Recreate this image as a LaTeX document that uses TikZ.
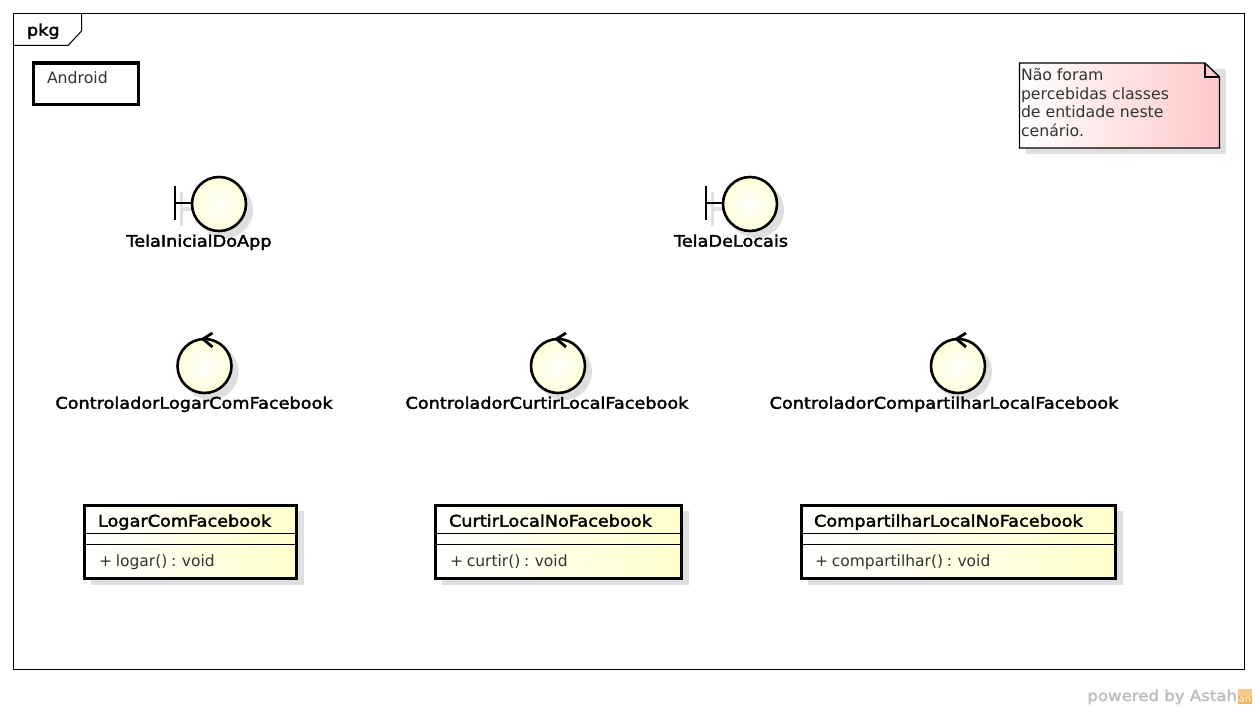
\documentclass[tikz,border=0pt]{standalone}
\usepackage{fontspec}
\setmainfont{DejaVu Sans}
\newfontfamily\boldish[FakeBold=2.2,FakeStretch=1.105]{DejaVu Sans}
\usetikzlibrary{shadings}
\definecolor{shadowgray}{HTML}{DFDFDF}
\definecolor{classyellow}{HTML}{FFFFCC}
\definecolor{notered}{HTML}{FFC8C8}
\definecolor{thintext}{HTML}{333333}
\definecolor{logotext}{HTML}{BDBDBD}
\definecolor{logoorange}{HTML}{F0B45A}
\tikzset{
  x=1pt,y=-1pt,
  every node/.style={inner sep=0pt,outer sep=0pt},
  txt/.style={font=\fontsize{15.7}{18}\selectfont,text=thintext,anchor=base west},
  bold/.style={font=\boldish\fontsize{16}{18}\selectfont,text=black,anchor=base},
  framel/.style={draw=black,line width=1pt},
  thick3/.style={draw=black,line width=3pt},
  robust/.style={circle,minimum size=54pt,draw=black,line width=2.6pt,inner color=white,outer color=classyellow!75},
  shadowc/.style={circle,minimum size=56pt,fill=shadowgray},
  classbox/.style={rectangle,thick3,left color=white,right color=classyellow,anchor=north west,minimum height=73pt},
  stroke/.style={draw=black,line width=2.8pt},
  sep/.style={draw=black,line width=1.3pt},
}
\newcommand{\boundaryfig}[2]{%
  \node[shadowc] at (#2+6,210) {};
  \fill[shadowgray] (#2-39,207) rectangle (#2-25,211);
  \fill[shadowgray] (#2-39,192) rectangle (#2-36,226);
  \node[robust] (#1) at (#2,204) {};
  \coordinate (#1bar) at (#2-44,203);
  \draw[stroke] (#1bar) -- (#1.west |- #1bar);
  \draw[stroke] (#2-44,186) -- (#2-44,220);
}
\newcommand{\controlfig}[2]{%
  \node[shadowc] at (#2+6,372) {};
  \node[robust] (#1) at (#2,366) {};
  \draw[stroke,line join=miter] (#2+8,333) -- (#2-1.5,339) -- (#2+8,347);
}
\newcommand{\classfig}[6]{%
  \fill[shadowgray] (#2+6,511) rectangle (#3+7,585);
  \node[classbox,minimum width=#3-#2] (#1) at (#2,505) {};
  \draw[sep] (#1.west |- 0,533.5) -- (#1.east |- 0,533.5);
  \draw[sep] (#1.west |- 0,544.5) -- (#1.east |- 0,544.5);
  \node[bold,anchor=base west] (#1name) at (#4,526.6) {#5};
  \node[txt,font=\fontsize{15.5}{18}\selectfont] (#1op) at (#4+1,566) {\spaceskip=3.8pt\relax #6};
}
\begin{document}
\begin{tikzpicture}
\useasboundingbox (0,0) rectangle (1257,709);
\fill[white] (0,0) rectangle (1257,709);
% frame
\node[rectangle,framel,minimum width=1231pt,minimum height=656pt,anchor=north west] (frame) at (13.5,13.5) {};
\draw[framel] (frame.north west |- 0,45.5) -- (68,45.5) -- (81.5,31) -- (81.5,13.5);
\node[bold,anchor=base west] (pkg) at (27,35.7) {pkg};
% android
\node[rectangle,thick3,minimum width=105pt,minimum height=41pt,anchor=north west] (android) at (33.5,63) {};
\node[txt] (androidlabel) at (47,83) {Android};
% note
\fill[shadowgray] (1026,69) rectangle (1226,154);
\shade[left color=white,right color=notered,draw=black,line width=1.3pt] (1019.5,63) -- (1205,63) -- (1219.5,77) -- (1219.5,148) -- (1019.5,148) -- cycle;
\draw[black,line width=1.3pt] (1205,63) -- (1205,77) -- (1219.5,77);
\node[txt,align=left,anchor=north west,font=\fontsize{15.7}{18.6}\selectfont] (note) at (1021,68.5) {Não foram\\percebidas classes\\de entidade neste\\cenário.};
% boundaries
\boundaryfig{tela}{219}
\node[bold] (telalabel) at (199,246.7) {TelaInicialDoApp};
\boundaryfig{locais}{750}
\node[bold] (locaislabel) at (731,246.7) {TelaDeLocais};
% controllers
\controlfig{cone}{204.5}
\node[bold] (conelabel) at (194,408.7) {ControladorLogarComFacebook};
\controlfig{ctwo}{558}
\node[bold] (ctwolabel) at (547,408.7) {ControladorCurtirLocalFacebook};
\controlfig{cthree}{958}
\node[bold] (cthreelabel) at (944,408.7) {ControladorCompartilharLocalFacebook};
% classes
\classfig{logar}{84.5}{296.5}{98}{LogarComFacebook}{+ logar() : void}
\classfig{curtir}{435.5}{681.5}{449}{CurtirLocalNoFacebook}{+ curtir() : void}
\classfig{comp}{801.5}{1115.5}{814}{CompartilharLocalNoFacebook}{+ compartilhar() : void}
% footer
\node[anchor=base east,text=logotext,font=\boldish\fontsize{15}{18}\selectfont] (powered) at (1237,701) {powered by Astah};
\fill[logoorange!70] (1238,689) rectangle (1252,704);
\fill[logoorange] (1238,696) rectangle (1252,704);
\node[anchor=base,text=white,font=\fontsize{10}{10}\selectfont] (logo) at (1245,702) {an};
\end{tikzpicture}
\end{document}
